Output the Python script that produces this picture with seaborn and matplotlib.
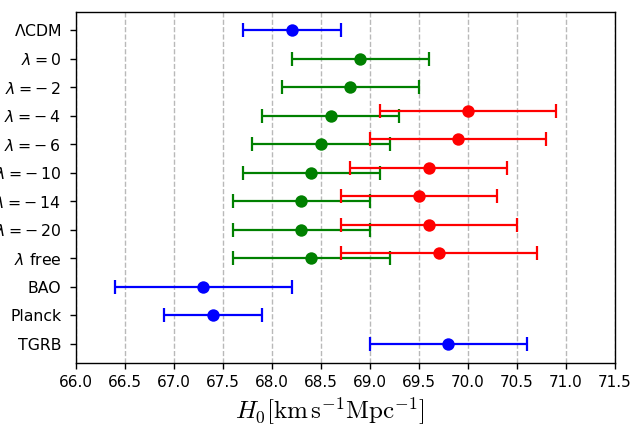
import numpy as np
import pandas as pd
import matplotlib
matplotlib.use("Agg")
import matplotlib.pyplot as plt
import seaborn as sns

labels = [r"$\Lambda$CDM", r"$\lambda=0$", r"$\lambda=-\:2$", r"$\lambda=-\:4$", r"$\lambda=-\:6$",
          r"$\lambda=-\:10$", r"$\lambda=-\:14$", r"$\lambda=-\:20$", r"$\lambda$ free",
          "BAO", "Planck", "TGRB"]

# reference (blue) measurements
blue_rows = [0, 9, 10, 11]
blue_val = [68.2, 67.3, 67.4, 69.8]
blue_err = [0.5, 0.9, 0.5, 0.8]

# green series
green_rows = [1, 2, 3, 4, 5, 6, 7, 8]
green_val = [68.9, 68.8, 68.6, 68.5, 68.4, 68.3, 68.3, 68.4]
green_err = [0.7, 0.7, 0.7, 0.7, 0.7, 0.7, 0.7, 0.8]

# red series
red_rows = [3, 4, 5, 6, 7, 8]
red_val = [70.0, 69.9, 69.6, 69.5, 69.6, 69.7]
red_err = [0.9, 0.9, 0.8, 0.8, 0.9, 1.0]

xticks = np.arange(66.0, 71.51, 0.5)

sns.set_style("white")
plt.rcParams["font.family"] = ["DejaVu Sans"]

fig = plt.figure(figsize=(6.44, 4.30), dpi=100)
ax = fig.add_axes([76/644, 1-363/430, (615-76)/644, (363-12)/430])

red_offset = -0.17
series = [
    (blue_rows, blue_val, blue_err, "blue", 0.0),
    (green_rows, green_val, green_err, "green", 0.0),
    (red_rows, red_val, red_err, "red", red_offset),
]
for rows, vals, errs, col, off in series:
    ys = np.array(rows, dtype=float) + off
    ax.errorbar(vals, ys, xerr=errs, fmt="none", ecolor=col, elinewidth=1.6,
                capsize=5, capthick=1.6, zorder=3)
    df = pd.DataFrame({"H0": vals, "y": ys})
    sns.scatterplot(data=df, x="H0", y="y", color=col, s=80, linewidth=0,
                    ax=ax, zorder=4, legend=False)

ax.set_yticks(range(len(labels)))
ax.set_yticklabels(labels, fontsize=11.3, color="black")
ax.set_ylim(11.67, -0.63)
ax.set_xticks(xticks)
ax.set_xticklabels([f"{t:.1f}" for t in xticks], fontsize=11, color="black")
ax.set_xlim(66.0, 71.5)
ax.xaxis.grid(True, linestyle="--", color="gray", alpha=0.55, linewidth=1)
ax.yaxis.grid(False)
ax.set_axisbelow(True)
ax.tick_params(axis="both", which="major", direction="out", length=4.5, width=1,
               left=True, bottom=True, color="black")
ax.tick_params(axis="y", pad=6)
ax.tick_params(axis="x", pad=4)
for s in ax.spines.values():
    s.set_color("black")
    s.set_linewidth(1)
ax.set_ylabel("")
ax.set_xlabel(r"$H_0[\mathrm{km\,s^{-1}Mpc^{-1}}]$", fontsize=18, math_fontfamily="cm",
              color="black")
ax.xaxis.set_label_coords(0.471, -0.093)

fig.savefig("out.png", dpi=100)
